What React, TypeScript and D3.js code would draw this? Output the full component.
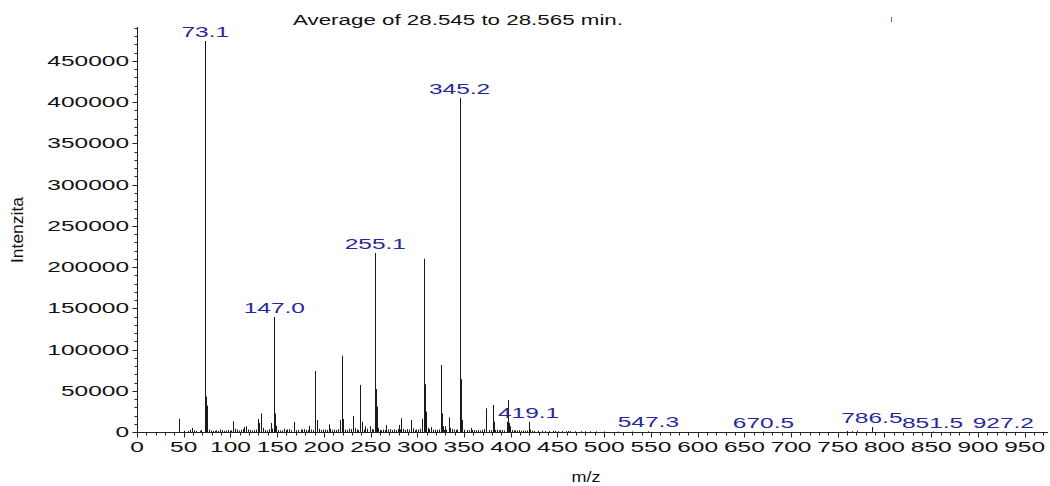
import React from "react";
import * as d3 from "d3";

const TITLE = "Average of 28.545 to 28.565 min.";
const X_LABEL = "m/z";
const Y_LABEL = "Intenzita";

// m/z values and intensities of the main spectrum lines
const mzValues = [
  45, 59, 73.1, 74, 75, 77, 89, 103, 105, 115, 117, 119, 129, 131, 133, 135, 143, 147.0, 148, 149,
  157, 163, 168, 175, 179, 184, 191, 193, 195, 201, 205, 207, 211, 217, 219, 220, 221, 227, 231, 233,
  239, 241, 244, 249, 255.1, 256, 257, 258, 263, 267, 271, 275, 280, 283, 285, 289, 293, 295, 299, 303,
  305, 307, 308, 309, 311, 315, 319, 325, 326, 327, 330, 334, 335, 339, 345.2, 346, 347, 348, 357, 361,
  373, 374, 381, 382, 385, 389, 396, 397, 398, 399, 405, 419.1, 421, 433, 447, 461, 475, 491, 547.3, 670.5,
  771, 786.5, 787, 851.5, 927.2,
];
const intensities = [
  16000, 5000, 474000, 43000, 32000, 3000, 3000, 13000, 4000, 6000, 7000, 3000, 16000, 11000, 22500, 5000, 11000, 139500, 22500, 7500,
  4000, 3500, 12000, 3000, 3500, 7500, 74000, 14500, 4000, 3000, 9300, 4000, 3000, 14500, 92500, 15800, 5000, 4000, 19400, 5000,
  57000, 12500, 7000, 7000, 217000, 52000, 30700, 5000, 3000, 8500, 3500, 3000, 8500, 16600, 4000, 3500, 14500, 4500, 3000, 4000,
  15800, 210000, 57900, 24600, 5000, 6000, 3000, 81300, 22600, 7000, 7000, 17800, 5000, 3000, 405000, 134000, 64000, 14500, 5000, 2500,
  28700, 7000, 32800, 12500, 3000, 2500, 12500, 38800, 11000, 7000, 2000, 12500, 3000, 1500, 1200, 1200, 1000, 800, 800, 600,
  1500, 6000, 2500, 600, 500,
];
// small background lines ("grass") read from the baseline
const noiseMz = [
  50, 55, 57, 61, 63, 67, 69, 79, 81, 83, 85, 87, 91, 93, 95, 97, 99, 101, 107, 109,
  111, 113, 121, 123, 125, 127, 137, 139, 141, 145, 151, 153, 155, 159, 161, 165, 170, 172, 177, 181,
  183, 186, 188, 197, 199, 203, 209, 213, 215, 223, 225, 229, 235, 237, 243, 246, 251, 253, 260, 261,
  265, 269, 273, 277, 279, 281, 287, 291, 297, 301, 313, 317, 321, 323, 329, 331, 337, 341, 343, 350,
  353, 355, 359, 363, 365, 367, 369, 371, 377, 379, 383, 387, 391, 393, 401, 403, 407, 409, 411, 413,
  415, 417, 423, 425, 429, 437, 441, 445, 451, 455, 459, 463, 469, 479, 485, 500, 515, 530, 760, 765,
];
const noiseIntensity = [
  1500, 1200, 2500, 2000, 1200, 1500, 2500, 1800, 1200, 1500, 2000, 1200, 2200, 1500, 1800, 2500, 1500, 2000, 3000, 1800,
  2500, 3500, 2500, 1800, 2000, 3000, 2500, 1800, 3500, 4000, 2500, 2000, 1800, 2500, 3000, 2200, 2000, 2500, 3000, 2500,
  2200, 3000, 2500, 2500, 3000, 2500, 2200, 2500, 3500, 3000, 2500, 3500, 3000, 2500, 3000, 4000, 3500, 3000, 2500, 2000,
  2500, 3000, 2500, 2200, 3500, 3000, 2500, 3000, 2200, 3000, 3500, 2800, 2500, 3000, 2500, 2800, 3500, 2500, 3000, 2800,
  2500, 2200, 2500, 2000, 2200, 1800, 2500, 3500, 2500, 2200, 2500, 2000, 2500, 1800, 2500, 2000, 1800, 2200, 1500, 1800,
  1500, 1800, 1500, 1200, 1500, 1200, 1000, 1200, 1000, 1200, 900, 1000, 800, 900, 700, 700, 600, 600, 1200, 1000,
];
const labelledMz = [73.1, 147.0, 255.1, 345.2, 419.1, 547.3, 670.5, 786.5, 851.5, 927.2];

const X_MAX = 975;
const Y_MAX = 491000;
const xMajorTicks = d3.range(0, 951, 50);
const xMinorTicks = d3.range(0, 971, 10);
const yMajorTicks = d3.range(0, 450001, 50000);
const yMinorTicks = d3.range(0, 490001, 10000);

const FONT = "'Liberation Sans', Arial, sans-serif";
const LABEL_BLUE = "#28289c";

function SText({ x, y, anchor = "middle", fill = "#111", size = 14, sx = 1.75, children }: any) {
  return (
    <text
      transform={`translate(${x},${y}) scale(${sx},1)`}
      textAnchor={anchor}
      fontSize={size}
      fill={fill}
      fontFamily={FONT}
    >
      {children}
    </text>
  );
}

export default function App() {
  const x = d3.scaleLinear().domain([0, X_MAX]).range([137, 1048]);
  const y = d3.scaleLinear().domain([0, Y_MAX]).range([432, 27]);
  const px = (v: number) => Math.round(x(v)) + 0.5;
  const py = (v: number) => Math.round(y(v)) + 0.5;
  const y0 = py(0);

  return (
    <svg
      width={1050}
      height={486}
      style={{ position: "absolute", left: 0, top: 0, background: "#fff" }}
      fontFamily={FONT}
    >
      <rect width={1050} height={486} fill="#fff" />
      {/* title */}
      <text x={293} y={25} fontSize={14} fill="#111" textLength={330} lengthAdjust="spacingAndGlyphs">
        {TITLE}
      </text>
      <line x1={891.5} x2={891.5} y1={17} y2={22} stroke="#3a6fd0" strokeWidth={1} />

      {/* background lines */}
      {noiseMz.map((m, i) => (
        <line
          key={"n" + i}
          x1={px(m)}
          x2={px(m)}
          y1={y0}
          y2={y(noiseIntensity[i])}
          stroke="#1a1a1a"
          strokeWidth={1}
        />
      ))}
      {/* spectrum lines */}
      {mzValues.map((m, i) => (
        <line
          key={i}
          x1={px(m)}
          x2={px(m)}
          y1={y0}
          y2={y(intensities[i])}
          stroke="#1a1a1a"
          strokeWidth={1}
        />
      ))}

      {/* peak labels */}
      {labelledMz.map((m) => {
        const v = intensities[mzValues.indexOf(m)];
        const ty = Math.min(y(v) - 4, 429);
        return (
          <SText key={m} x={x(m)} y={ty} fill={LABEL_BLUE}>
            {m.toFixed(1)}
          </SText>
        );
      })}

      {/* y axis */}
      <line x1={137.5} x2={137.5} y1={27} y2={437} stroke="#222" strokeWidth={1} />
      {yMinorTicks.map((t) => (
        <line key={"ym" + t} x1={134.5} x2={137.5} y1={py(t)} y2={py(t)} stroke="#222" />
      ))}
      {yMajorTicks.map((t) => (
        <g key={"yM" + t}>
          <line x1={132.5} x2={137.5} y1={py(t)} y2={py(t)} stroke="#222" />
          <SText x={129} y={y(t) + 5} anchor="end">
            {String(t)}
          </SText>
        </g>
      ))}
      <text
        transform={`translate(23,230) rotate(-90) scale(1,1.1)`}
        textAnchor="middle"
        fontSize={15}
        fill="#111"
        textLength={66}
        lengthAdjust="spacingAndGlyphs"
      >
        {Y_LABEL}
      </text>

      {/* x axis */}
      <line x1={137} x2={1048} y1={y0} y2={y0} stroke="#222" strokeWidth={1} />
      {xMinorTicks.map((t) => (
        <line key={"xm" + t} x1={px(t)} x2={px(t)} y1={y0} y2={y0 + 3} stroke="#222" />
      ))}
      {xMajorTicks.map((t) => (
        <g key={"xM" + t}>
          <line x1={px(t)} x2={px(t)} y1={y0} y2={y0 + 5} stroke="#222" />
          <SText x={x(t)} y={452}>
            {String(t)}
          </SText>
        </g>
      ))}
      <text x={586} y={482} textAnchor="middle" fontSize={15} fill="#111" textLength={29} lengthAdjust="spacingAndGlyphs">
        {X_LABEL}
      </text>
    </svg>
  );
}
